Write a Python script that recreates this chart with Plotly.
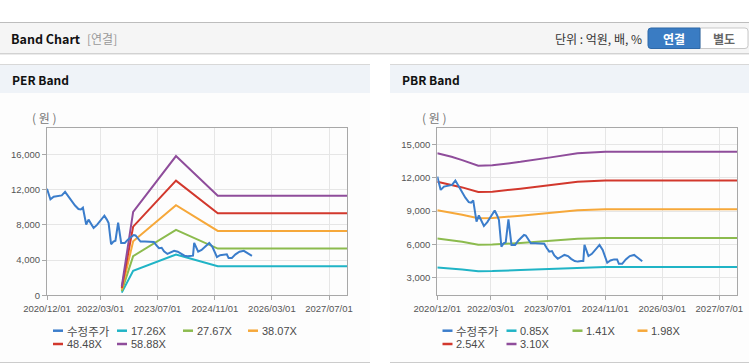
import plotly.graph_objects as go

W, H = 749, 364

# ---------------- data ----------------
price_name = "수정주가"
price_dates = ["2020-12-01", "2020-12-30", "2021-01-27", "2021-02-20", "2021-03-15", "2021-04-06",
               "2021-05-04", "2021-06-02", "2021-06-30", "2021-07-28", "2021-08-26", "2021-09-15",
               "2021-10-03", "2021-10-31", "2021-11-20", "2021-12-10", "2022-01-02", "2022-01-31",
               "2022-03-01", "2022-04-04", "2022-04-25", "2022-05-10", "2022-05-31", "2022-06-20",
               "2022-07-07", "2022-07-30", "2022-08-25", "2022-09-25", "2022-10-23", "2022-11-20",
               "2022-12-10", "2022-12-25", "2023-01-20", "2023-02-06", "2023-03-15", "2023-05-01",
               "2023-05-31", "2023-06-20", "2023-07-13", "2023-08-05", "2023-08-25", "2023-09-23",
               "2023-10-20", "2023-11-19", "2023-12-20", "2024-01-15", "2024-02-15", "2024-03-12",
               "2024-04-10", "2024-04-28", "2024-05-08", "2024-06-11", "2024-07-10", "2024-08-10",
               "2024-09-13", "2024-10-10", "2024-11-01", "2024-11-18", "2024-12-15", "2025-01-15",
               "2025-02-10", "2025-02-25", "2025-03-25", "2025-04-25", "2025-05-29", "2025-07-05",
               "2025-08-05", "2025-09-01", "2025-09-12"]
price_vals = [12100, 10900, 11200, 11250, 11300, 11350,
              11750, 11200, 10600, 10200, 9800, 9750,
              9950, 8050, 8600, 8200, 7650, 8000,
              8500, 9050, 8600, 8200, 5800, 6100,
              6200, 8250, 5950, 5950, 6350, 6600,
              6850, 6800, 6300, 6100, 6100, 6050,
              6050, 5700, 5350, 5400, 5000, 4700,
              4850, 5050, 4950, 4700, 4500, 4450,
              4500, 4500, 5950, 4950, 5150, 5500,
              5950, 5500, 4800, 4350, 4550, 4650,
              4650, 4250, 4250, 4650, 4950, 5050,
              4800, 4600, 4480]

# PER band lines
per_names = ["17.26X", "27.67X", "38.07X", "48.48X", "58.88X"]
per_dates = ["2022-08-30", "2022-12-05", "2023-12-05", "2024-11-25", "2027-12-01"]
per_17 = [300, 2779, 4638, 3314, 3314]
per_27 = [470, 4455, 7435, 5313, 5313]
per_38 = [650, 6129, 10229, 7309, 7309]
per_48 = [830, 7805, 13027, 9308, 9308]
per_58 = [1000, 9480, 15821, 11305, 11305]

# PBR band lines
pbr_names = ["0.85X", "1.41X", "1.98X", "2.54X", "3.10X"]
pbr_dates = ["2020-12-01", "2021-04-01", "2021-07-01", "2021-11-15", "2022-03-15",
             "2022-11-10", "2023-07-25", "2024-03-10", "2024-11-01", "2027-12-01"]
pbr_085 = [3910, 3830, 3740, 3590, 3600, 3690, 3800, 3900, 3960, 3960]
pbr_141 = [6520, 6380, 6230, 5960, 5980, 6130, 6320, 6500, 6570, 6570]
pbr_198 = [9068, 8870, 8672, 8346, 8375, 8573, 8831, 9062, 9156, 9156]
pbr_254 = [11633, 11379, 11125, 10706, 10744, 10998, 11328, 11626, 11745, 11745]
pbr_310 = [14198, 13888, 13578, 13067, 13113, 13423, 13826, 14189, 14334, 14334]

x_tickvals = ["2020-12-01", "2022-03-01", "2023-07-01", "2024-11-01", "2026-03-01", "2027-07-01"]
x_ticktext = ["2020/12/01", "2022/03/01", "2023/07/01", "2024/11/01", "2026/03/01", "2027/07/01"]
per_yticks = [0, 4000, 8000, 12000, 16000]
pbr_yticks = [3000, 6000, 9000, 12000, 15000]

# ---------------- style ----------------
price_color = "#3b7dcb"
band_colors = ["#20b4c6", "#8cbb4e", "#f6a83a", "#d2382d", "#8f4d9b"]
KR = "Noto Sans CJK KR"
LAT = "Liberation Sans"


def fx(x):
    return x / W


def fy(y):
    return 1 - y / H


fig = go.Figure()

# PER
for nm, vals, c in zip(per_names, [per_17, per_27, per_38, per_48, per_58], band_colors):
    fig.add_trace(go.Scatter(x=per_dates, y=vals, mode="lines", name=nm,
                             line=dict(color=c, width=2), xaxis="x", yaxis="y",
                             showlegend=False))
fig.add_trace(go.Scatter(x=price_dates, y=price_vals, mode="lines", name=price_name,
                         line=dict(color=price_color, width=2), xaxis="x", yaxis="y",
                         showlegend=False))
# PBR
for nm, vals, c in zip(pbr_names, [pbr_085, pbr_141, pbr_198, pbr_254, pbr_310], band_colors):
    fig.add_trace(go.Scatter(x=pbr_dates, y=vals, mode="lines", name=nm,
                             line=dict(color=c, width=2), xaxis="x2", yaxis="y2",
                             showlegend=False))
fig.add_trace(go.Scatter(x=price_dates, y=price_vals, mode="lines", name=price_name,
                         line=dict(color=price_color, width=2), xaxis="x2", yaxis="y2",
                         showlegend=False))

axis_common = dict(showgrid=True, gridcolor="#e6e6e6", gridwidth=1, showline=True,
                   linecolor="#a8a8a8", linewidth=1, mirror=True, ticks="outside",
                   ticklen=4, tickcolor="#a8a8a8", zeroline=False, automargin=False,
                   tickfont=dict(family=LAT, size=9.5, color="#555555"))

y0_plot, y1_plot = 295.3, 128.2
fig.update_layout(
    width=W, height=H, autosize=False,
    margin=dict(l=0, r=0, t=0, b=0, pad=0),
    paper_bgcolor="#ffffff", plot_bgcolor="rgba(0,0,0,0)",
    showlegend=False,
    xaxis=dict(domain=[fx(47), fx(347)], type="date", range=["2020-12-01", "2027-12-01"],
               tickmode="array", tickvals=x_tickvals, ticktext=x_ticktext, anchor="y",
               **axis_common),
    yaxis=dict(domain=[fy(y0_plot), fy(y1_plot)], range=[0, 18985], tickmode="array",
               tickvals=per_yticks, tickformat=",d", anchor="x", **axis_common),
    xaxis2=dict(domain=[fx(437.3), fx(737.3)], type="date", range=["2020-12-01", "2027-12-01"],
                tickmode="array", tickvals=x_tickvals, ticktext=x_ticktext, anchor="y2",
                **axis_common),
    yaxis2=dict(domain=[fy(y0_plot), fy(y1_plot)], range=[1420, 16450], tickmode="array",
                tickvals=pbr_yticks, tickformat=",d", anchor="x2", **axis_common),
)

shapes = []
annots = []


def rect(x0, y0, x1, y1, fill, line=None):
    shapes.append(dict(type="rect", xref="paper", yref="paper", x0=fx(x0), x1=fx(x1),
                       y0=fy(y1), y1=fy(y0), fillcolor=fill, layer="below",
                       line=dict(width=0) if line is None else dict(color=line, width=1)))


def hline(x0, x1, y, color, width=1, layer="below"):
    shapes.append(dict(type="line", xref="paper", yref="paper", x0=fx(x0), x1=fx(x1),
                       y0=fy(y), y1=fy(y), line=dict(color=color, width=width), layer=layer))


def text(x, y, s, size, color, family=KR, xanchor="left"):
    annots.append(dict(x=fx(x), y=fy(y), xref="paper", yref="paper", text=s, showarrow=False,
                       xanchor=xanchor, yanchor="middle",
                       font=dict(family=family, size=size, color=color)))


# top header band
rect(0, 22.5, 749, 53, "#f5f5f5")
hline(0, 749, 22.5, "#bdbdbd")
hline(0, 749, 53.5, "#d2d2d2")
hline(0, 749, 54.5, "#ebebeb")
text(9, 38.5, "<b>Band Chart</b>", 12.5, "#111111")
text(85, 38.5, "[연결]", 12, "#999999")
text(644, 38.5, "단위 : 억원, 배, %", 12, "#333333", xanchor="right")


def rpath(x0, y0, x1, y1, rl, rr):
    p = lambda x, y: f"{fx(x):.6f},{fy(y):.6f}"
    s = f"M {p(x0 + rl, y0)} L {p(x1 - rr, y0)} "
    s += f"Q {p(x1, y0)} {p(x1, y0 + rr)} " if rr else ""
    s += f"L {p(x1, y1 - rr)} "
    s += f"Q {p(x1, y1)} {p(x1 - rr, y1)} " if rr else ""
    s += f"L {p(x0 + rl, y1)} "
    s += f"Q {p(x0, y1)} {p(x0, y1 - rl)} " if rl else ""
    s += f"L {p(x0, y0 + rl)} "
    s += f"Q {p(x0, y0)} {p(x0 + rl, y0)} " if rl else ""
    return s + "Z"


shapes.append(dict(type="path", xref="paper", yref="paper", path=rpath(700, 28, 748, 48.5, 0, 3),
                   fillcolor="#ffffff", line=dict(color="#c8c8c8", width=1), layer="below"))
shapes.append(dict(type="path", xref="paper", yref="paper", path=rpath(648, 28, 700, 48.5, 3, 0),
                   fillcolor="#3a7cc3", line=dict(color="#2f69a8", width=1), layer="below"))
text(674, 38.5, "<b>연결</b>", 12, "#ffffff", xanchor="center")
text(724, 38.5, "<b>별도</b>", 12, "#666666", xanchor="center")

# panels
for (px0, px1, title, tx) in [(0, 370, "PER Band", 10), (390, 749, "PBR Band", 400)]:
    rect(px0, 93, px1, 362, "#fdfdfd")
    rect(px0, 64.5, px1, 93, "#eff3f8")
    hline(px0, px1, 64.5, "#d8d8d8")
    hline(px0, px1, 362.5, "#cccccc")
    text(tx, 79.5, f"<b>{title}</b>", 12, "#111111")
    text(tx + 20, 117.5, "( 원 )", 12, "#777777")

# manual legends
legend_cols = [(53, 330.7), (117, 330.7), (183, 330.7), (248, 330.7), (53, 344), (117, 344)]
for offset, names in [(0, per_names), (389.5, pbr_names)]:
    items = [(price_name, price_color)] + list(zip(names, band_colors))
    for (nm, col), (lx, ly) in zip(items, legend_cols):
        x0 = lx + offset
        hline(x0, x0 + 10, ly, col, width=2.5, layer="above")
        fam = KR if nm == price_name else LAT
        size = 11.5 if nm == price_name else 11
        text(x0 + 11.5, ly, nm, size, "#4a4a4a", family=fam)

fig.update_layout(shapes=shapes, annotations=annots)

fig.write_html("out.html", config={"displayModeBar": False},
               post_script="document.body.style.margin='0px';document.body.style.overflow='hidden';")
